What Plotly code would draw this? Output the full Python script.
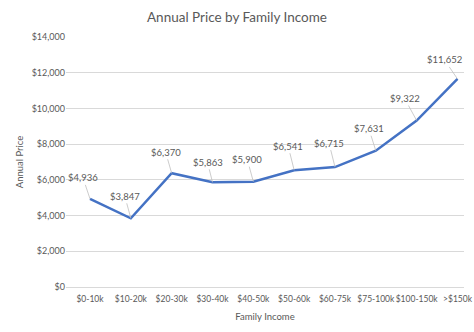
import plotly.graph_objects as go

categories = ["$0-10k", "$10-20k", "$20-30k", "$30-40k", "$40-50k",
              "$50-60k", "$60-75k", "$75-100k", "$100-150k", ">$150k"]
annual_price = [4936, 3847, 6370, 5863, 5900, 6541, 6715, 7631, 9322, 11652]
y_tick_values = [0, 2000, 4000, 6000, 8000, 10000, 12000, 14000]
y_tick_labels = ["$0", "$2,000", "$4,000", "$6,000", "$8,000", "$10,000", "$12,000", "$14,000"]

# leader-line offsets (pixels) for the data labels
label_dx = [-7, -6, -6, -5, -6, -6, -6, -7, -12, -13]
label_dy = [-21, -22, -21, -20, -22, -24, -24, -22, -22, -19]

FONT = "Lato"
GRAY = "#595959"

fig = go.Figure()
fig.add_trace(go.Scatter(
    x=categories, y=annual_price, mode="lines",
    line=dict(color="#4472C4", width=2.5),
    hoverinfo="skip", showlegend=False,
))

for cat, val, dx, dy in zip(categories, annual_price, label_dx, label_dy):
    fig.add_annotation(
        x=cat, y=val, xref="x", yref="y",
        text=f"${val:,}", showarrow=True, arrowhead=0,
        arrowwidth=0.8, arrowcolor="#BFBFBF", ax=dx, ay=dy,
        standoff=0, startstandoff=0,
        font=dict(family=FONT, size=9.5, color=GRAY),
    )

fig.update_layout(
    width=474, height=332,
    margin=dict(l=66, r=10, t=37, b=45),
    paper_bgcolor="white", plot_bgcolor="white",
    title=dict(text="Annual Price by Family Income", x=0.5, xanchor="center",
               y=1 - 17 / 332, yanchor="middle",
               font=dict(family=FONT, size=13.5, color=GRAY)),
    font=dict(family=FONT, color=GRAY),
    xaxis=dict(
        showgrid=False, showline=False, zeroline=False,
        tickangle=0, automargin=False, ticklabelstandoff=5,
        tickfont=dict(family=FONT, size=8.5, color=GRAY),
        title=dict(text="Family Income", font=dict(family=FONT, size=9.5, color=GRAY), standoff=10),
        ticks="", fixedrange=True,
    ),
    yaxis=dict(
        range=[0, 14000], tickvals=y_tick_values, ticktext=y_tick_labels,
        showgrid=True, gridcolor="#D9D9D9", gridwidth=1,
        zeroline=True, zerolinecolor="#D9D9D9", zerolinewidth=1,
        showline=False, ticks="", automargin=False,
        tickfont=dict(family=FONT, size=9, color=GRAY),
        title=dict(text="Annual Price", font=dict(family=FONT, size=9.5, color=GRAY), standoff=6),
        fixedrange=True,
    ),
)

fig.write_html("out.html")
